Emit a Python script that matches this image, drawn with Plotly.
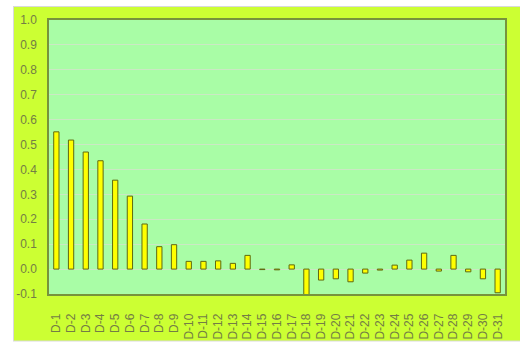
import base64
import plotly.graph_objects as go

# Daily series, days D-1 .. D-31
days = [f"D-{i}" for i in range(1, 32)]
values = [
    0.551, 0.518, 0.470, 0.435, 0.357, 0.293, 0.181, 0.090, 0.098, 0.031,
    0.031, 0.033, 0.023, 0.055, -0.002, -0.003, 0.017, -0.110, -0.044, -0.039,
    -0.051, -0.016, -0.004, 0.016, 0.036, 0.064, -0.008, 0.055, -0.011, -0.039,
    -0.095,
]
y_ticks = [round(-0.1 + 0.1 * i, 1) for i in range(12)]
y_labels = [f"{v:.1f}" for v in y_ticks]

text_color = "#737d45"
frame_color = "#77933C"
label_font = "Liberation Sans Narrow, Liberation Sans, Arial, sans-serif"

FIG_W, FIG_H = 520, 343
W, H = 456, 274  # plot area size in px

# Outer page edge: white strips on the left, top and bottom plus a thin grey frame
edge_svg = (
    f"<svg xmlns='http://www.w3.org/2000/svg' width='{FIG_W}' height='{FIG_H}' "
    f"viewBox='0 0 {FIG_W} {FIG_H}' preserveAspectRatio='none'>"
    "<rect x='0' y='0' width='13' height='343' fill='white'/>"
    "<rect x='0' y='0' width='520' height='6' fill='white'/>"
    "<rect x='0' y='341' width='520' height='2' fill='white'/>"
    "<rect x='13.5' y='6.5' width='510' height='334.5' fill='none' "
    "stroke='#D9D9D9' stroke-width='1'/>"
    "</svg>"
)
edge_src = "data:image/svg+xml;base64," + base64.b64encode(edge_svg.encode()).decode()

fig = go.Figure(
    go.Bar(
        x=days,
        y=values,
        width=0.36,
        marker=dict(color="#FFFF00", line=dict(color="#5f6a10", width=1)),
    )
)

fig.update_layout(
    width=FIG_W,
    height=FIG_H,
    margin=dict(l=49, r=15, t=20, b=49, autoexpand=False),
    paper_bgcolor="#CCFF33",
    plot_bgcolor="#A9FDA6",
    showlegend=False,
    images=[
        dict(source=edge_src, xref="paper", yref="paper",
             x=-49 / W, y=1 + 20 / H, sizex=FIG_W / W, sizey=FIG_H / H,
             xanchor="left", yanchor="top", sizing="stretch", layer="above"),
    ],
    shapes=[
        dict(type="rect", xref="paper", yref="paper", x0=-49 / W, x1=-36 / W,
             y0=-49 / H, y1=1 + 20 / H, fillcolor="white", line=dict(width=0)),
        dict(type="rect", xref="paper", yref="paper", x0=-49 / W, x1=1 + 15 / W,
             y0=1 + 14 / H, y1=1 + 20 / H, fillcolor="white", line=dict(width=0)),
    ],
)

fig.update_xaxes(
    type="category",
    automargin=False,
    tickangle=-90,
    showline=True,
    mirror=True,
    linecolor=frame_color,
    linewidth=1.5,
    showgrid=False,
    ticks="outside",
    ticklen=13,
    tickcolor="rgba(0,0,0,0)",
    tickfont=dict(family=label_font, size=12, color=text_color),
)

fig.update_yaxes(
    range=[-0.1, 1.0],
    automargin=False,
    tickvals=y_ticks,
    ticktext=y_labels,
    showline=True,
    mirror=True,
    linecolor=frame_color,
    linewidth=1.5,
    showgrid=True,
    gridcolor="#CBE8C4",
    gridwidth=1,
    zeroline=True,
    zerolinecolor="#CBE8C4",
    zerolinewidth=1,
    ticks="outside",
    ticklen=8,
    tickcolor="rgba(0,0,0,0)",
    tickfont=dict(family=label_font, size=12, color=text_color),
)

fig.write_html("out.html")
